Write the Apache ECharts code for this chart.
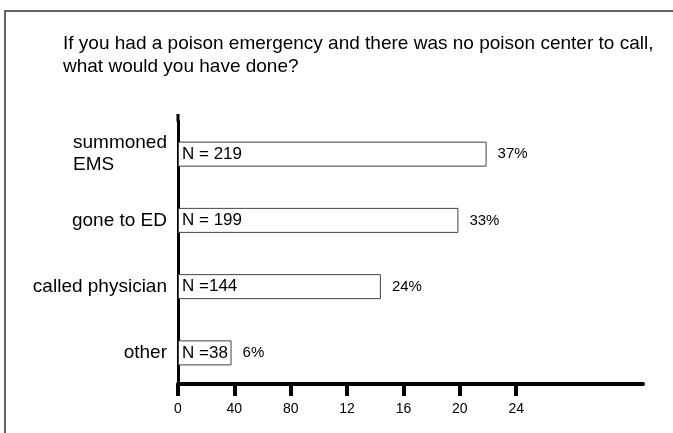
<!DOCTYPE html>
<html>
<head>
    <meta charset="utf-8">
    <title>Poison emergency</title>
    <script src="https://cdn.jsdelivr.net/npm/echarts@6/dist/echarts.min.js"></script>
</head>
<body style="margin:0">
<div id="main" style="width: 673px;height:433px;"></div>
<script type="text/javascript">
    // answers, top to bottom
    var categories = ['summoned EMS', 'gone to ED', 'called physician', 'other'];
    var counts = [219, 199, 144, 38];
    var countLabels = ['N = 219', 'N = 199', 'N =144', 'N =38'];
    var percents = [37, 33, 24, 6];
    // x axis ticks and the (truncated) labels printed under them
    var tickValues = [0, 40, 80, 120, 160, 200, 240];
    var tickLabels = ['0', '40', '80', '12', '16', '20', '24'];

    var font = '"Liberation Sans", Arial, sans-serif';
    var myChart = echarts.init(document.getElementById('main'));

    myChart.setOption({
        animation: false,
        backgroundColor: '#fff',
        textStyle: { fontFamily: font, color: '#000' },
        title: {
            text: 'If you had a poison emergency and there was no poison center to call,\nwhat would you have done?',
            left: 63,
            top: 32,
            padding: 0,
            textStyle: { fontFamily: font, fontSize: 19, fontWeight: 'normal', color: '#000', lineHeight: 23 }
        },
        graphic: [
            {
                // frame around the slide
                type: 'polyline',
                shape: { points: [[5, 433], [5, 11], [673, 11]] },
                style: { stroke: '#333', lineWidth: 1.5, fill: null }
            },
            {
                // the y axis line sticks out a little above the plot
                type: 'line',
                shape: { x1: 178, y1: 114, x2: 178, y2: 122 },
                style: { stroke: '#000', lineWidth: 3 }
            }
        ],
        grid: { left: 178, right: 30, top: 121, height: 265, outerBoundsMode: 'none', containLabel: false },
        xAxis: {
            type: 'value',
            min: 0,
            max: 330,
            interval: 40,
            offset: -2,
            splitLine: { show: false },
            axisLine: { show: true, lineStyle: { color: '#000', width: 4 } },
            axisTick: { show: true, length: 12, customValues: tickValues, lineStyle: { color: '#000', width: 4 } },
            axisLabel: {
                customValues: tickValues,
                margin: 18,
                fontSize: 14,
                color: '#000',
                fontFamily: font,
                formatter: function (v) { return tickLabels[tickValues.indexOf(v)]; }
            }
        },
        yAxis: {
            type: 'category',
            data: categories,
            inverse: true,
            axisLine: { show: true, lineStyle: { color: '#000', width: 3 } },
            axisTick: { show: false },
            splitLine: { show: false },
            axisLabel: {
                margin: 11,
                fontSize: 19,
                color: '#000',
                fontFamily: font,
                formatter: function (v) {
                    if (v === 'summoned EMS') return '{l|summoned}\n{l|EMS}';
                    return v;
                },
                rich: {
                    l: { fontSize: 19, fontFamily: font, color: '#000', width: 94, align: 'left', lineHeight: 22 }
                }
            }
        },
        series: [
            {
                type: 'bar',
                data: counts,
                barWidth: 25,
                itemStyle: { color: '#fff', borderColor: '#444', borderWidth: 1 },
                label: {
                    show: true,
                    position: 'insideLeft',
                    distance: 4,
                    fontSize: 17,
                    color: '#000',
                    fontFamily: font,
                    formatter: function (p) { return countLabels[p.dataIndex]; }
                }
            },
            {
                type: 'bar',
                data: counts,
                barWidth: 25,
                barGap: '-100%',
                itemStyle: { color: 'rgba(0,0,0,0)' },
                label: {
                    show: true,
                    position: 'right',
                    distance: 11,
                    fontSize: 15,
                    color: '#000',
                    fontFamily: font,
                    formatter: function (p) { return percents[p.dataIndex] + '%'; }
                }
            }
        ]
    });
</script>
</body>
</html>
